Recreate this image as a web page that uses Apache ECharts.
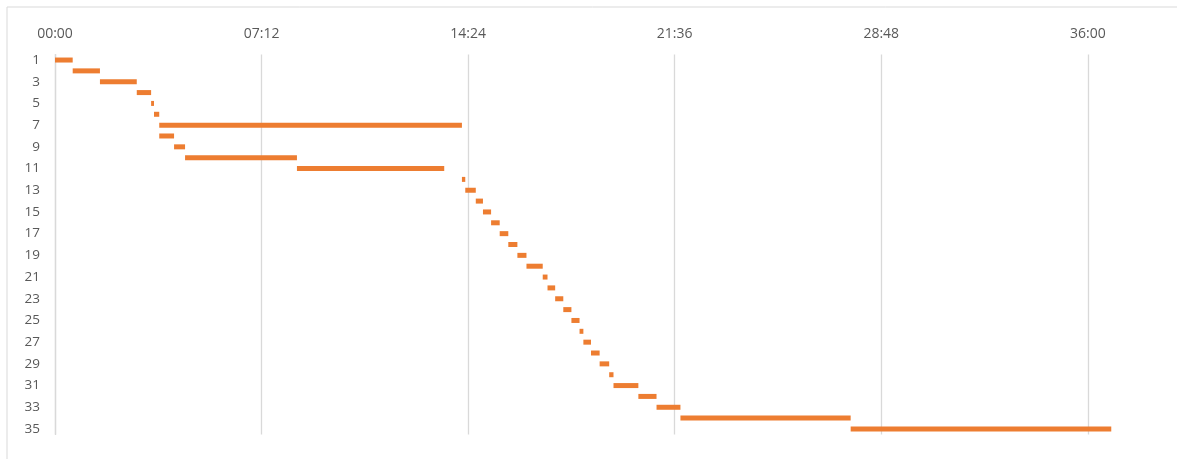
<!DOCTYPE html>
<html>
<head>
<meta charset="utf-8">
<script src="https://cdn.jsdelivr.net/npm/echarts@6/dist/echarts.min.js"></script>
<style>
  html, body { margin: 0; padding: 0; background: #fff; }
  #chart { width: 1177px; height: 459px; }
</style>
</head>
<body>
<div id="chart"></div>
<script>
// Step numbers (rows, top to bottom)
const steps = ['1','2','3','4','5','6','7','8','9','10','11','12','13','14','15','16','17','18','19','20',
               '21','22','23','24','25','26','27','28','29','30','31','32','33','34','35'];
// Start time of each step, minutes from 00:00
const startMin = [0, 37, 94, 171, 201, 207, 218, 218, 249, 272, 506, 851, 858, 880, 895, 912, 930, 948, 967, 986,
                  1020, 1030, 1046, 1063, 1080, 1097, 1105, 1121, 1139, 1159, 1168, 1220, 1258, 1308, 1664];
// End time of each step, minutes from 00:00
const endMin = [37, 94, 171, 201, 207, 218, 851, 249, 272, 506, 814, 858, 880, 895, 912, 930, 948, 967, 986, 1020,
                1030, 1046, 1063, 1080, 1097, 1105, 1121, 1139, 1159, 1168, 1220, 1258, 1308, 1664, 2209];
// Time axis ticks (minutes): 00:00, 07:12, 14:24, 21:36, 28:48, 36:00
const tickStep = 432;
const axisMax = 2290;

const durationMin = endMin.map((e, i) => e - startMin[i]);

function hhmm(v) {
  const h = Math.floor(v / 60), m = Math.round(v % 60);
  return String(h).padStart(2, '0') + ':' + String(m).padStart(2, '0');
}

const chart = echarts.init(document.getElementById('chart'), null, { renderer: 'canvas' });
chart.setOption({
  animation: false,
  backgroundColor: '#ffffff',
  textStyle: { fontFamily: 'Open Sans, Liberation Sans, sans-serif' },
  graphic: [{
    type: 'rect',
    shape: { x: 7, y: 7, width: 1200, height: 480 },
    style: { fill: 'none', stroke: '#d9d9d9', lineWidth: 1 },
    silent: true, z: -1
  }],
  grid: { left: 55, right: 27, top: 54.6, height: 379.8, containLabel: false },
  xAxis: {
    type: 'value',
    position: 'top',
    min: 0,
    max: axisMax,
    interval: tickStep,
    axisLine: { show: false },
    axisTick: { show: false },
    axisLabel: {
      color: '#595959', fontSize: 14, margin: 14,
      showMaxLabel: false,
      formatter: v => (v % tickStep === 0 ? hhmm(v) : '')
    },
    splitLine: { show: true, showMinLine: true, showMaxLine: false, lineStyle: { color: '#d9d9d9', width: 1.3 } }
  },
  yAxis: {
    type: 'category',
    inverse: true,
    data: steps,
    axisLine: { show: true, lineStyle: { color: '#d9d9d9', width: 1.3 } },
    axisTick: { show: false },
    axisLabel: { color: '#595959', fontSize: 13.5, margin: 15, interval: 1 },
    splitLine: { show: false }
  },
  series: [
    {
      type: 'bar', stack: 'gantt', barWidth: 5,
      itemStyle: { color: 'transparent' },
      silent: true,
      data: startMin
    },
    {
      type: 'bar', stack: 'gantt', barWidth: 5,
      itemStyle: { color: '#ED7D31' },
      data: durationMin
    }
  ]
});
</script>
</body>
</html>
